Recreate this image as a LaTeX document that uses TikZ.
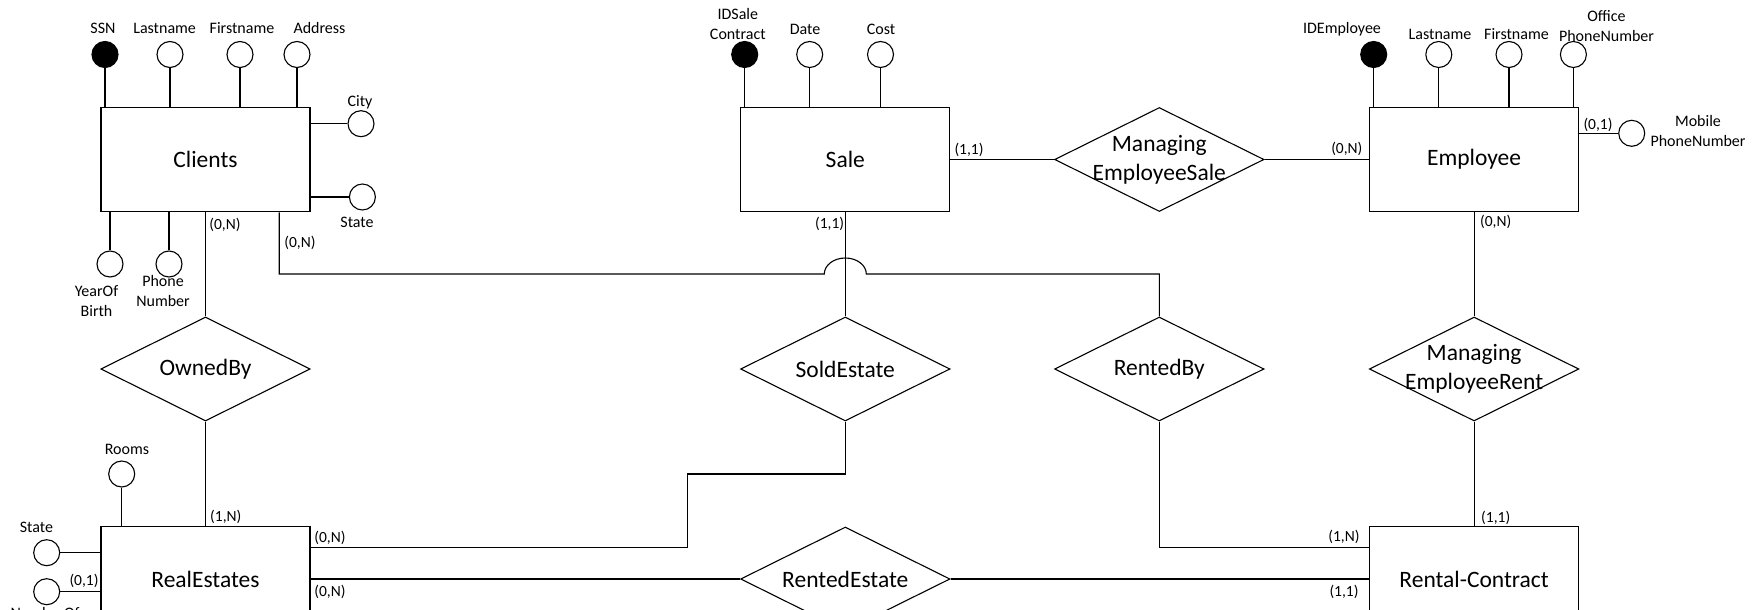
\documentclass[tikz,border=0pt]{standalone}
\usepackage{fontspec}
\setmainfont{Carlito}
\usetikzlibrary{shapes.geometric}
\newcommand\bigf{\fontsize{23.5pt}{29pt}\selectfont}
\newcommand\smallf{\fontsize{16pt}{20pt}\selectfont}
\newcommand\cardf{\fontsize{15.5pt}{18pt}\selectfont}
\tikzset{every node/.style={font=\smallf,inner sep=0pt},ent/.style={draw,minimum width=209pt,minimum height=104.4pt,font=\bigf},rel/.style={draw,diamond,aspect=2,minimum width=209.4pt,minimum height=104pt,font=\bigf},att/.style={draw,circle,minimum size=26pt},key/.style={att,fill=black},lbl/.style={align=center},card/.style={font=\cardf}}

\begin{document}
\begin{tikzpicture}[x=1pt,y=-1pt,line width=1.1pt]
\useasboundingbox (0,0) rectangle (1764,610);\clip (0,0) rectangle (1764,610);
\node[ent] (cli) at (205.5,159.5){Clients};\node[ent] (sal) at (845.3,159.5){Sale};\node[ent] (emp) at (1474.1,159.5){Employee};\node[ent] (ret) at (205.5,579){RealEstates};\node[ent] (rcn) at (1474.1,579){Rental-Contract};
\node[rel] (own) at (205.5,369){OwnedBy};\node[rel] (sde) at (845.3,369){SoldEstate};\node[rel] (rby) at (1159.3,369){RentedBy};\node[rel] (rde) at (845.3,579){RentedEstate};
\node[rel,label={[font=\bigf,align=center]center:Managing\\EmployeeSale}] (mes) at (1159.3,159.5){};\node[rel,label={[font=\bigf,align=center]center:Managing\\EmployeeRent}] (mer) at (1474.1,369){};
\foreach \s/\cx/\lx/\ly/\t [count=\i] in {key/105/103/28/SSN,att/170/164.6/28/Lastname,att/240/242/28/Firstname,att/297/319.5/28/Address}{\node[\s] (ca\i) at (\cx,54.5){};\node[lbl] (cl\i) at (\lx,\ly){\t};\draw (ca\i) -- (ca\i |- cli.north);}
\foreach \s/\cx/\lx/\ly/\t [count=\i] in {key/744.7/737.8/24/{IDSale\\Contract},att/809.7/805/29/Date,att/880.5/881/29/Cost}{\node[\s] (sa\i) at (\cx,54.5){};\node[lbl] (sl\i) at (\lx,\ly){\t};\draw (sa\i) -- (sa\i |- sal.north);}
\foreach \s/\cx/\lx/\ly/\t [count=\i] in {key/1373.7/1342/29/IDEmployee,att/1438.8/1440/34/Lastname,att/1509/1516.5/34/Firstname,att/1573.4/1606.5/25.7/{Office\\PhoneNumber}}{\node[\s] (ea\i) at (\cx,54.5){};\node[lbl] (el\i) at (\lx,\ly){\t};\draw (ea\i) -- (ea\i |- emp.north);}
\node[att] (city) at (361,123.7){};\node (lcity) at (360,102){City};\node[att] (cst) at (362.4,197){};\node (lcst) at (357,222.7){State};
\draw (city) -- (city -| cli.east);\draw (cst) -- (cst -| cli.east);
\node[att] (yob) at (110,264){};\node[lbl] (lyob) at (96.5,301){YearOf\\Birth};\node[att] (pho) at (169,264){};\node[lbl] (lpho) at (163,291){Phone\\Number};
\draw (yob) -- (yob |- cli.south);\draw (pho) -- (pho |- cli.south);
\node[att] (mob) at (1631.7,133.3){};\node[lbl] (lmob) at (1698,130.7){Mobile\\PhoneNumber};\draw (mob) -- (mob -| emp.east);
\node[att] (rms) at (121.7,474){};\node (lrms) at (127,449){Rooms};\draw (rms) -- (rms |- ret.north);
\node[att] (rst) at (46.7,552.7){};\node (lrst) at (36.4,527.3){State};\draw (rst) -- (rst -| ret.west);
\node[att] (nor) at (46.7,591.7){};\node (lnor) at (45,613){NumberOf};\draw (nor) -- (nor -| ret.west);
\draw (cli.south) -- (own.north);\draw (own.south) -- (ret.north);\draw (sal.east) -- (mes.west);\draw (mes.east) -- (emp.west);\draw (emp.south) -- (mer.north);\draw (mer.south) -- (rcn.north);
\draw (sal.south) -- (sde.north);\draw (ret.east) -- (rde.west);\draw (rde.east) -- (rcn.west);
\coordinate (hop) at (845.3,274);\coordinate (stp) at (687.3,474);
\draw ([xshift=-31.3pt]cli.south east) |- ([xshift=-21pt]hop) arc[start angle=180,end angle=0,x radius=21pt,y radius=16pt] -| (rby.north);
\draw ([yshift=31.3pt]ret.east) -| (stp) -| (sde.south);\draw (rby.south) |- ([yshift=31.3pt]rcn.west);
\foreach \x/\y/\t [count=\i] in {225/225/{(0,N)},300/242.7/{(0,N)},969/149.7/{(1,1)},1346.8/149/{(0,N)},829.6/224/{(1,1)},1495.7/222/{(0,N)},1598/125/{(0,1)},225.8/517/{(1,N)},330/538.3/{(0,N)},330/592.3/{(0,N)},1495.7/518.3/{(1,1)},1343.9/537.3/{(1,N)},1344/592.3/{(1,1)},84/580.7/{(0,1)}}{\node[card] (cd\i) at (\x,\y){\t};}
\end{tikzpicture}
\end{document}
